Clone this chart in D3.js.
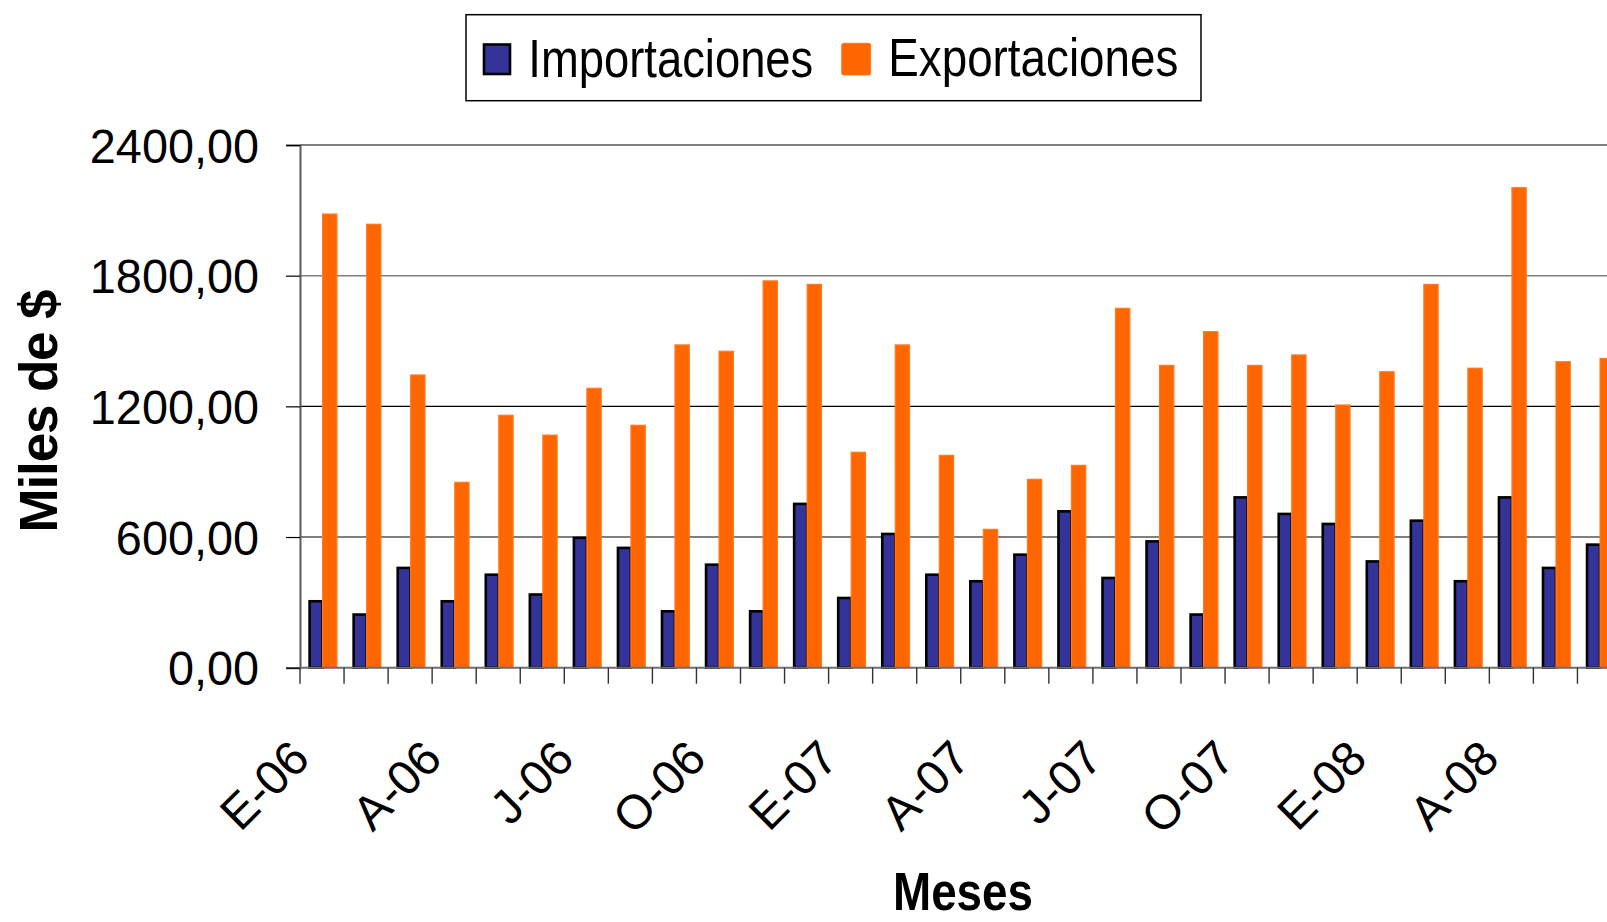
<!DOCTYPE html>
<html>
<head>
<meta charset="utf-8">
<script src="https://cdn.jsdelivr.net/npm/d3@7"></script>
<style>
  html, body { margin: 0; padding: 0; background: #fff; }
  svg { display: block; font-family: "Liberation Sans", Arial, sans-serif; }
</style>
</head>
<body>
<svg id="chart" width="1607" height="922"></svg>
<script>
// Monthly labels (Spanish initials), Jan-2006 .. Jun-2008
const months = [
  "E-06","F-06","M-06","A-06","M-06","J-06","J-06","A-06","S-06","O-06","N-06","D-06",
  "E-07","F-07","M-07","A-07","M-07","J-07","J-07","A-07","S-07","O-07","N-07","D-07",
  "E-08","F-08","M-08","A-08","M-08","J-08"
];
// Thousands of $ per month
const importaciones = [311, 250, 464, 311, 433, 342, 602, 556, 265, 479, 265, 758,
                       326, 620, 433, 403, 525, 724, 418, 586, 250, 788, 712, 666,
                       494, 681, 403, 788, 464, 571];
const exportaciones = [2083, 2036, 1344, 851, 1159, 1068, 1283, 1113, 1482, 1453, 1776, 1760,
                       989, 1482, 975, 635, 865, 929, 1650, 1388, 1543, 1388, 1436, 1206,
                       1359, 1760, 1375, 2204, 1405, 1420];
const yTicks = [0, 600, 1200, 1800, 2400];
const seriesNames = ["Importaciones", "Exportaciones"];
const labelEvery = 3;

(function () {
  const svg = d3.select("#chart");
  const W = 1607;
  const plotLeft = 300, plotBottom = 667.7, plotTop = 145, band = 44.05;

  const x = d3.scaleBand()
    .domain(d3.range(months.length))
    .range([plotLeft, plotLeft + band * months.length]);

  const inner = d3.scaleBand()
    .domain(seriesNames)
    .range([8.3, 36.9]);

  const y = d3.scaleLinear().domain([0, 2400]).range([plotBottom, plotTop]);

  const fmt = v => d3.format(".2f")(v).replace(".", ",");

  // horizontal gridlines
  svg.append("g").selectAll("line").data(yTicks.slice(1)).join("line")
    .attr("x1", plotLeft).attr("x2", W)
    .attr("y1", d => y(d)).attr("y2", d => y(d))
    .attr("stroke", d => d >= 1800 ? "#7f7f7f" : "#000")
    .attr("stroke-width", d => d === 2400 ? 2.2 : (d === 1800 ? 1.6 : 1.1));

  // y axis
  const yAxis = d3.axisLeft(y).tickValues(yTicks).tickSize(14).tickPadding(27).tickFormat(fmt);
  const gy = svg.append("g").attr("transform", `translate(${plotLeft},0)`).call(yAxis);
  gy.select(".domain").attr("stroke", "#5a5a5a").attr("stroke-width", 2);
  gy.selectAll(".tick line").attr("stroke", "#000").attr("stroke-width", 1.2);
  gy.selectAll(".tick text")
    .attr("font-size", 48).attr("fill", "#000")
    .attr("font-family", "'Liberation Sans', Arial, sans-serif")
    .attr("dy", "0.36em")
    .attr("textLength", function () { return this.getComputedTextLength() * 0.975; })
    .attr("lengthAdjust", "spacingAndGlyphs");

  // bars
  const groups = svg.append("g").selectAll("g").data(months).join("g")
    .attr("transform", (d, i) => `translate(${x(i)},0)`);

  const sw = 2.6;
  groups.append("rect")
    .attr("x", inner("Importaciones") + sw / 2)
    .attr("width", inner.bandwidth() - sw / 2)
    .attr("y", (d, i) => y(importaciones[i]) + sw / 2)
    .attr("height", (d, i) => plotBottom - y(importaciones[i]) - sw / 2)
    .attr("fill", "#333399").attr("stroke", "#000").attr("stroke-width", sw);

  groups.append("rect")
    .attr("x", inner("Exportaciones"))
    .attr("width", inner.bandwidth())
    .attr("y", (d, i) => y(exportaciones[i]))
    .attr("height", (d, i) => plotBottom - y(exportaciones[i]))
    .attr("fill", "#ff6600").attr("stroke", "#ff7a22").attr("stroke-width", 1.2);

  // x axis baseline and category ticks
  svg.append("line")
    .attr("x1", plotLeft).attr("x2", W).attr("y1", plotBottom).attr("y2", plotBottom)
    .attr("stroke", "#6e6e6e").attr("stroke-width", 2);
  svg.append("line")
    .attr("x1", plotLeft).attr("x2", plotLeft).attr("y1", plotBottom).attr("y2", plotBottom + 16)
    .attr("stroke", "#333").attr("stroke-width", 1.4);
  svg.append("g").selectAll("line").data(months).join("line")
    .attr("x1", (d, i) => x(i) + band).attr("x2", (d, i) => x(i) + band)
    .attr("y1", plotBottom).attr("y2", plotBottom + 16)
    .attr("stroke", "#333").attr("stroke-width", 1.4);

  // rotated month labels
  svg.append("g").selectAll("text")
    .data(months.map((m, i) => ({ m, i })).filter(d => d.i % labelEvery === 0))
    .join("text")
    .attr("transform", d => `translate(${x(d.i) + 12},761) rotate(-45)`)
    .attr("text-anchor", "end")
    .attr("font-size", 48)
    .attr("fill", "#000")
    .text(d => d.m);

  // axis titles
  svg.append("text")
    .attr("x", 963).attr("y", 910)
    .attr("text-anchor", "middle")
    .attr("font-size", 53).attr("font-weight", "bold")
    .attr("textLength", 140).attr("lengthAdjust", "spacingAndGlyphs")
    .text("Meses");

  svg.append("text")
    .attr("transform", "translate(57,411) rotate(-90)")
    .attr("text-anchor", "middle")
    .attr("font-size", 53).attr("font-weight", "bold")
    .attr("textLength", 243).attr("lengthAdjust", "spacing")
    .text("Miles de $");

  // legend
  const lg = svg.append("g");
  lg.append("rect")
    .attr("x", 466).attr("y", 14.7).attr("width", 735).attr("height", 86)
    .attr("fill", "#fff").attr("stroke", "#000").attr("stroke-width", 1.5);
  lg.append("rect")
    .attr("x", 484).attr("y", 44.5).attr("width", 26).attr("height", 29.5)
    .attr("fill", "#333399").attr("stroke", "#000").attr("stroke-width", 2.6);
  lg.append("rect")
    .attr("x", 841.7).attr("y", 43.3).attr("width", 29).attr("height", 31.7).attr("rx", 2)
    .attr("fill", "#ff6600").attr("stroke", "#ff7a22").attr("stroke-width", 1);
  lg.append("text")
    .attr("x", 528.3).attr("y", 76.5)
    .attr("font-size", 53).attr("fill", "#000")
    .attr("textLength", 285).attr("lengthAdjust", "spacingAndGlyphs")
    .text(seriesNames[0]);
  lg.append("text")
    .attr("x", 888.3).attr("y", 75.5)
    .attr("font-size", 53).attr("fill", "#000")
    .attr("textLength", 290).attr("lengthAdjust", "spacingAndGlyphs")
    .text(seriesNames[1]);
})();
</script>
</body>
</html>
